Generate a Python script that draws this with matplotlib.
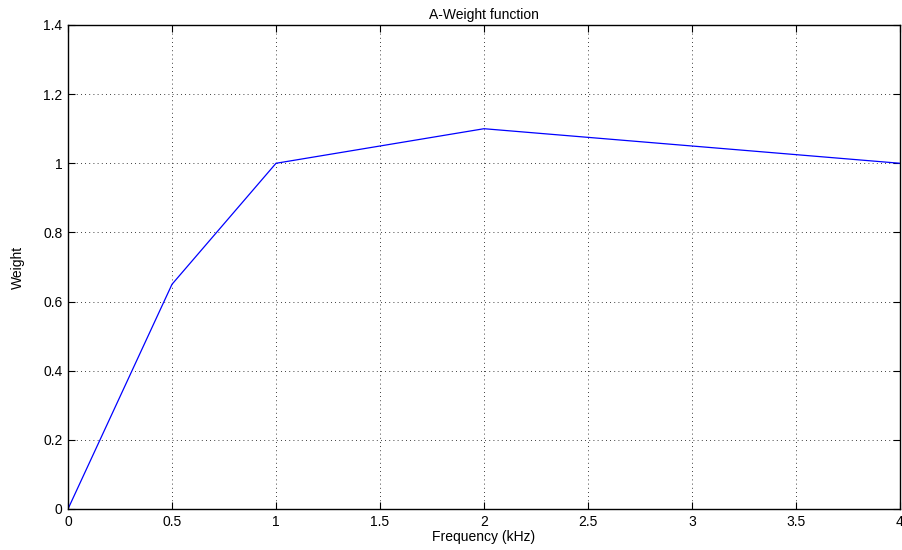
import numpy as np
import matplotlib.pyplot as plt

plt.rcParams['font.family'] = ['Liberation Sans', 'DejaVu Sans']

# A-weight breakpoints
freq_khz = [0, 0.5, 1, 2, 4]
weight = [0, 0.65, 1, 1.1, 1]

xticks = [0, 0.5, 1, 1.5, 2, 2.5, 3, 3.5, 4]
yticks = [0, 0.2, 0.4, 0.6, 0.8, 1, 1.2, 1.4]

fig = plt.figure(figsize=(9.02, 5.5), dpi=100)
ax = fig.add_axes([68/902, 41/550, 832/902, 484/550])

ax.plot(freq_khz, weight, color='blue', linewidth=0.9)

ax.set_xlim(0, 4)
ax.set_ylim(0, 1.4)
ax.set_xticks(xticks)
ax.set_yticks(yticks)
ax.set_xticklabels(['0', '0.5', '1', '1.5', '2', '2.5', '3', '3.5', '4'])
ax.set_yticklabels(['0', '0.2', '0.4', '0.6', '0.8', '1', '1.2', '1.4'])
ax.tick_params(direction='in', top=True, right=True, labelsize=10, length=5, width=0.8, pad=4)
ax.grid(True, color='black', linestyle=(0, (1, 4)), linewidth=0.6)
for s in ax.spines.values():
    s.set_linewidth(1.0)

ax.set_title('A-Weight function', fontsize=10, pad=4)
ax.set_xlabel('Frequency (kHz)', fontsize=10, labelpad=1)
ax.set_ylabel('Weight', fontsize=10, labelpad=13)

fig.savefig('out.png', dpi=100)
